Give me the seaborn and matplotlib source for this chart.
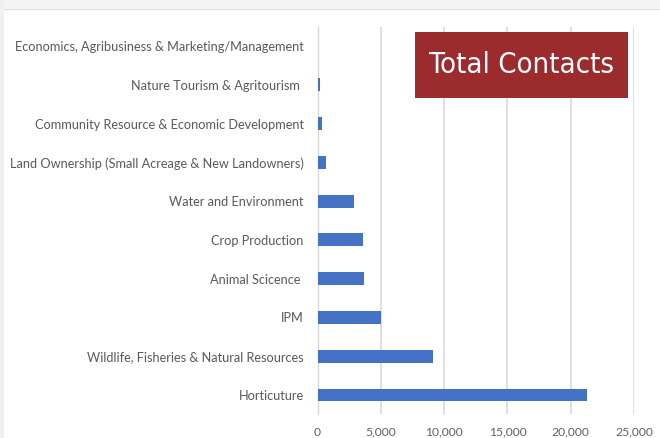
import matplotlib
matplotlib.use("Agg")
import matplotlib.pyplot as plt
from matplotlib.patches import Rectangle
from matplotlib.ticker import FuncFormatter, FixedLocator
from matplotlib import font_manager
import seaborn as sns
import pandas as pd

categories = [
    "Economics, Agribusiness & Marketing/Management",
    "Nature Tourism & Agritourism ",
    "Community Resource & Economic Development",
    "Land Ownership (Small Acreage & New Landowners)",
    "Water and Environment",
    "Crop Production",
    "Animal Scicence ",
    "IPM",
    "Wildlife, Fisheries & Natural Resources",
    "Horticuture",
]
contacts = [0, 200, 330, 650, 2900, 3600, 3700, 5020, 9100, 21250]
x_ticks = [0, 5000, 10000, 15000, 20000, 25000]
title_text = "Total Contacts"

df = pd.DataFrame({"category": categories, "contacts": contacts})

sns.set_theme(style="white")
plt.rcParams["font.family"] = ["Lato", "DejaVu Sans"]

cond_fp = None
for f in font_manager.fontManager.ttflist:
    if "DejaVuSansCondensed.ttf" in f.fname:
        cond_fp = font_manager.FontProperties(fname=f.fname)
        break
if cond_fp is None:
    cond_fp = font_manager.FontProperties(family="Roboto")

fig = plt.figure(figsize=(6.6, 4.38), dpi=100)
fig.patch.set_facecolor("white")
fig.add_artist(Rectangle((0, 1 - 9 / 438), 1, 9 / 438, transform=fig.transFigure,
                         facecolor="#f4f4f4", edgecolor="none", zorder=0))
fig.add_artist(Rectangle((0, 1 - 10 / 438), 1, 1.2 / 438, transform=fig.transFigure,
                         facecolor="#dedede", edgecolor="none", zorder=0))
fig.add_artist(Rectangle((0, 0), 4 / 660, 1, transform=fig.transFigure,
                         facecolor="#f0f0f0", edgecolor="none", zorder=0))

ax = fig.add_axes([317.5 / 660, 1 - 414.4 / 438, (634 - 317.5) / 660, (414.4 - 26.6) / 438])
sns.barplot(data=df, x="contacts", y="category", orient="h", ax=ax,
            color="#4472C4", width=0.33, linewidth=0,
            saturation=1, zorder=3)

ax.set_xlim(0, 25000)
ax.set_xticks(x_ticks)
ax.xaxis.set_major_formatter(FuncFormatter(lambda v, p: f"{int(v):,}"))
ax.grid(axis="x", color="#d9d9d9", linewidth=1.2, zorder=0)
ax.set_axisbelow(True)
ax.set_xlabel("")
ax.set_ylabel("")

for s in ["top", "right", "bottom"]:
    ax.spines[s].set_visible(False)
ax.spines["left"].set_color("#d9d9d9")
ax.spines["left"].set_linewidth(1.0)

ax.tick_params(axis="x", length=0, pad=9, labelsize=8.7, labelcolor="#606060")
ax.tick_params(axis="y", which="major", length=0, pad=10, labelsize=9.2, labelcolor="#595959")
n = len(categories)
ax.yaxis.set_minor_locator(FixedLocator([i + 0.5 for i in range(-1, n)]))
ax.tick_params(axis="y", which="minor", length=5, width=1.0, color="#d9d9d9", direction="out")

fig.add_artist(Rectangle((415 / 660, 1 - 98 / 438), (628 - 415) / 660, (98 - 32) / 438,
                         transform=fig.transFigure, facecolor="#9c2b2e", edgecolor="none", zorder=5))
fig.text((415 + 628) / 2 / 660, 1 - 65 / 438, title_text, ha="center", va="center",
         color="white", fontsize=21, zorder=6, fontproperties=cond_fp)

fig.savefig("out.png", dpi=100)
